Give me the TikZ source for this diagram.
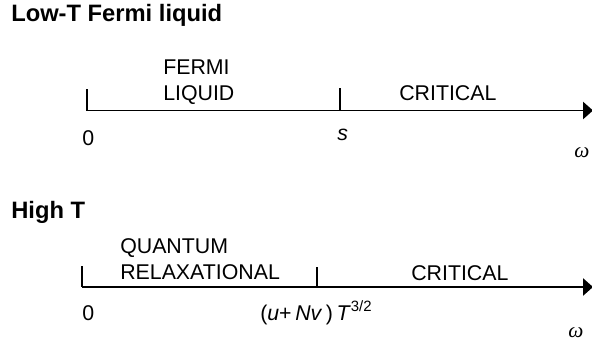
\documentclass[tikz,border=0pt]{standalone}
\usepackage{fontspec}
\setmainfont{Liberation Sans}
\newfontfamily\greekserif{Liberation Serif}
\usetikzlibrary{arrows.meta,positioning,calc}

\begin{document}
\begin{tikzpicture}[x=0.75pt, y=-0.75pt,
  titletext/.style={font=\fontsize{17.8}{21}\selectfont\bfseries, inner sep=0, anchor=base west},
  regiontext/.style={font=\fontsize{16}{19.2}\selectfont, inner sep=0, anchor=base west, align=left},
  ticktext/.style={font=\fontsize{16}{19.2}\selectfont, inner sep=0, anchor=base west},
  omegatext/.style={font=\fontsize{16}{19}\selectfont\greekserif\itshape, inner sep=0, anchor=base},
  axisline/.style={line width=1.1pt, -{Triangle[length=7.5pt, width=13pt]}},
  tickline/.style={line width=1.1pt}]
\useasboundingbox (0,0) rectangle (592,347);

% low T
\node[titletext] (lowtitle) at (11,21.5) {Low-T Fermi liquid};
\coordinate (lowzero) at (87,110.5);
\coordinate (lows) at (340,110.5);
\coordinate (lowend) at (593,110.5);
\draw[tickline] (87,89) -- (lowzero);
\draw[tickline] (340,88) -- (lows);
\draw[axisline] (lowzero) -- (lowend);
\node[regiontext] (fermi) at (163,100.5) {FERMI\\LIQUID};
\node[regiontext] (lowcrit) at (399,100.5) {CRITICAL};
\node[ticktext] (lowzerolbl) at (82,145) {0};
\node[ticktext] (lowslbl) at (337,140) {\textit{s}};
\node[omegatext] (lowomega) at (582,157) {ω};

% high T
\node[titletext] (hightitle) at (11,218) {High T};
\coordinate (highzero) at (82,287);
\coordinate (highcross) at (317,287);
\coordinate (highend) at (593,287);
\draw[tickline] (82,266) -- (highzero);
\draw[tickline] (317,267) -- (highcross);
\draw[axisline] (highzero) -- (highend);
\node[regiontext] (quantum) at (120,279) {QUANTUM\\RELAXATIONAL};
\node[regiontext] (highcrit) at (411,280) {CRITICAL};
\node[ticktext] (highzerolbl) at (82,320) {0};
\node[ticktext] (highcrosslbl) at (260,320)
  {(\textit{u}+\,\textit{Nv}\,)\,\textit{T}\textsuperscript{3/2}};
\node[omegatext] (highomega) at (576,337) {ω};
\end{tikzpicture}
\end{document}
